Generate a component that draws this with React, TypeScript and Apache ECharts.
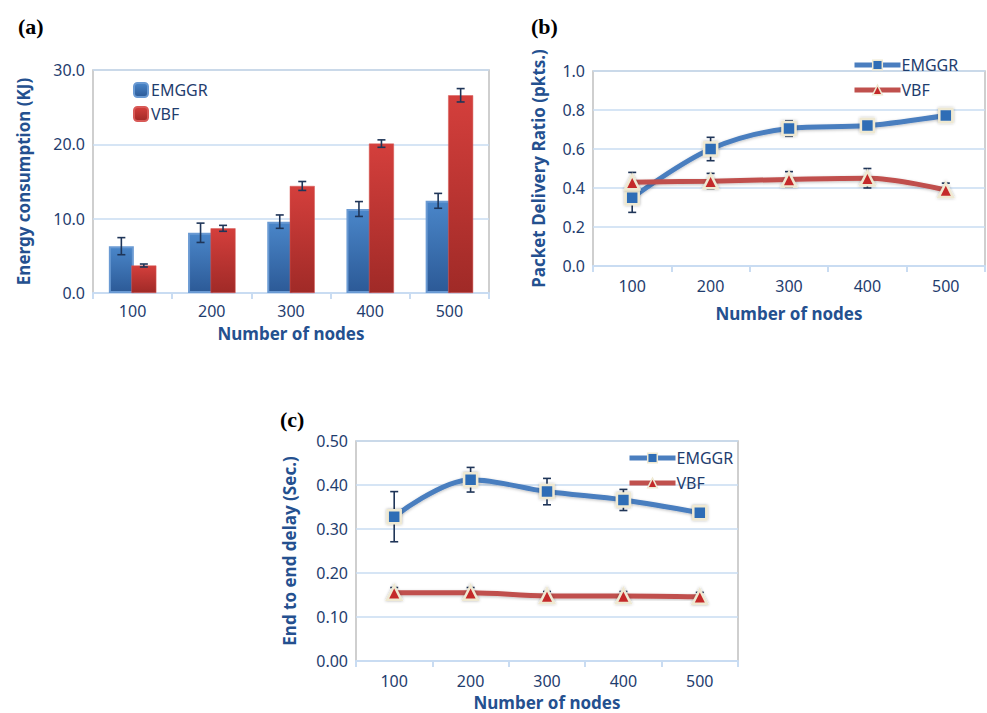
import React, { useEffect, useRef } from "react";
import * as echarts from "echarts";

const nodes = ["100", "200", "300", "400", "500"];

// (a) Energy consumption (KJ)
const energyEMGGR = [6.3, 8.1, 9.6, 11.3, 12.4];
const energyEMGGRErr = [1.15, 1.3, 0.9, 1.0, 1.0];
const energyVBF = [3.7, 8.7, 14.4, 20.1, 26.6];
const energyVBFErr = [0.2, 0.4, 0.6, 0.5, 0.9];

// (b) Packet delivery ratio
const pdrEMGGR = [0.35, 0.6, 0.705, 0.72, 0.772];
const pdrEMGGRErr = [0.075, 0.06, 0.04, 0.012, 0.012];
const pdrVBF = [0.43, 0.435, 0.444, 0.45, 0.39];
const pdrVBFErr = [0.05, 0.04, 0.04, 0.05, 0.035];

// (c) End to end delay
const delayEMGGR = [0.328, 0.412, 0.385, 0.366, 0.337];
const delayEMGGRErr = [0.057, 0.028, 0.03, 0.024, 0.01];
const delayVBF = [0.155, 0.155, 0.148, 0.148, 0.146];
const delayVBFErr = [0.012, 0.012, 0.01, 0.01, 0.01];

const energyTicks = { min: 0, max: 30, interval: 10 };
const pdrTicks = { min: 0, max: 1, interval: 0.2 };
const delayTicks = { min: 0, max: 0.5, interval: 0.1 };

const FONT = "Noto Sans";
const TICK_COLOR = "#1f3d6e";
const NAME_COLOR = "#24508f";
const GRID_LINE = "#c9dcf2";
const ERR_COLOR = "#1f3558";
const BLUE_LINE = "#4a7ebf";
const RED_LINE = "#c0504d";

const errData = (vals: number[], errs: number[]) =>
  vals.map((v, i) => [i, v, errs[i]]);

const errSeries = (
  name: string,
  idx: number,
  vals: number[],
  errs: number[],
  offset: number,
  z: number
) => ({
  type: "custom",
  name,
  xAxisIndex: idx,
  yAxisIndex: idx,
  z,
  silent: true,
  data: errData(vals, errs),
  encode: { x: 0, y: 1 },
  renderItem: (params: any, api: any) => {
    const x = api.value(0);
    const y = api.value(1);
    const e = api.value(2);
    const hi = api.coord([x, y + e]);
    const lo = api.coord([x, y - e]);
    const cx = hi[0] + offset;
    const cap = 4;
    const style = { stroke: ERR_COLOR, lineWidth: 1.6 };
    return {
      type: "group",
      children: [
        { type: "line", shape: { x1: cx, y1: hi[1], x2: cx, y2: lo[1] }, style },
        { type: "line", shape: { x1: cx - cap, y1: hi[1], x2: cx + cap, y2: hi[1] }, style },
        { type: "line", shape: { x1: cx - cap, y1: lo[1], x2: cx + cap, y2: lo[1] }, style },
      ],
    };
  },
});

const xAxisCfg = (idx: number, labelMargin: number, nameGap: number) => ({
  type: "category",
  gridIndex: idx,
  data: nodes,
  boundaryGap: true,
  name: "Number of nodes",
  nameLocation: "middle",
  nameGap,
  nameTextStyle: { fontFamily: FONT, fontSize: 17, fontWeight: "bold", color: NAME_COLOR, lineHeight: 18 },
  axisLine: { show: true, lineStyle: { color: GRID_LINE, width: 2 } },
  axisTick: { show: true, length: 6, lineStyle: { color: GRID_LINE, width: 2 } },
  axisLabel: { fontFamily: FONT, fontSize: 16, color: TICK_COLOR, margin: labelMargin, lineHeight: 16 },
  splitLine: { show: false },
});

const yAxisCfg = (
  idx: number,
  name: string,
  ticks: { min: number; max: number; interval: number },
  digits: number,
  nameGap: number
) => ({
  type: "value",
  gridIndex: idx,
  min: ticks.min,
  max: ticks.max,
  interval: ticks.interval,
  name,
  nameLocation: "middle",
  nameGap,
  nameTextStyle: { fontFamily: FONT, fontSize: 17, fontWeight: "bold", color: NAME_COLOR },
  axisLine: { show: false },
  axisTick: { show: false },
  axisLabel: {
    fontFamily: FONT,
    fontSize: 16,
    color: TICK_COLOR,
    margin: 8,
    formatter: (v: number) => v.toFixed(digits),
  },
  splitLine: { show: true, lineStyle: { color: GRID_LINE, width: 1.5 } },
});

const lineSeries = (
  name: string,
  idx: number,
  vals: number[],
  color: string,
  symbol: string,
  symbolColor: string,
  symbolSize: number
) => ({
  type: "line",
  name,
  xAxisIndex: idx,
  yAxisIndex: idx,
  data: vals,
  smooth: 0.35,
  z: 3,
  symbol,
  symbolSize,
  showSymbol: true,
  lineStyle: { color, width: 5, shadowColor: "rgba(0,0,0,0.25)", shadowBlur: 3, shadowOffsetY: 1 },
  itemStyle: {
    color: symbolColor,
    borderColor: "#efe9d2",
    borderWidth: 2.5,
    shadowColor: "rgba(0,0,0,0.3)",
    shadowBlur: 3,
  },
});

const barGradient = (top: string, bottom: string) =>
  new echarts.graphic.LinearGradient(0, 0, 0, 1, [
    { offset: 0, color: top },
    { offset: 1, color: bottom },
  ]);

const legendFmt = (n: string) => n.split("_")[0];

const lineLegend = (left: number, top: number, data: string[]) => ({
  orient: "vertical",
  left,
  top,
  itemWidth: 46,
  itemHeight: 12,
  itemGap: 9,
  data,
  formatter: legendFmt,
  lineStyle: { width: 5 },
  itemStyle: { borderColor: "#efe9d2", borderWidth: 1.5 },
  textStyle: { fontFamily: FONT, fontSize: 16, color: TICK_COLOR, padding: [0, 0, 0, -4] },
});

export default function App() {
  const ref = useRef<HTMLDivElement>(null);

  useEffect(() => {
    if (!ref.current) return;
    const chart = echarts.init(ref.current, undefined, { renderer: "svg" });
    const titleStyle = {
      fontFamily: "Liberation Serif",
      fontSize: 22,
      fontWeight: "bold",
      color: "#000",
    };
    chart.setOption({
      animation: false,
      backgroundColor: "#ffffff",
      title: [
        { text: "(a)", left: 13, top: 10, textStyle: titleStyle },
        { text: "(b)", left: 526, top: 10, textStyle: titleStyle },
        { text: "(c)", left: 275, top: 403, textStyle: titleStyle },
      ],
      grid: [
        { left: 93, top: 70, width: 396, height: 223, show: true, borderColor: "#c0c0c0", borderWidth: 1.5, backgroundColor: "transparent" },
        { left: 593, top: 71, width: 392, height: 195, show: true, borderColor: "#c0c0c0", borderWidth: 1.5, backgroundColor: "transparent" },
        { left: 356, top: 441, width: 382, height: 220, show: true, borderColor: "#c0c0c0", borderWidth: 1.5, backgroundColor: "transparent" },
      ],
      xAxis: [xAxisCfg(0, 10, 31), xAxisCfg(1, 12, 38), xAxisCfg(2, 12, 32)],
      yAxis: [
        yAxisCfg(0, "Energy consumption (KJ)", energyTicks, 1, 61),
        yAxisCfg(1, "Packet Delivery Ratio (pkts.)", pdrTicks, 1, 46),
        yAxisCfg(2, "End to end delay (Sec.)", delayTicks, 2, 58),
      ],
      legend: [
        {
          orient: "vertical",
          left: 128,
          top: 77,
          itemWidth: 14,
          itemHeight: 14,
          itemGap: 8,
          data: ["EMGGR_a", "VBF_a"],
          formatter: legendFmt,
          textStyle: { fontFamily: FONT, fontSize: 16, color: TICK_COLOR, padding: [0, 0, 0, -2] },
        },
        lineLegend(847, 52, ["EMGGR_b", "VBF_b"]),
        lineLegend(622, 445, ["EMGGR_c", "VBF_c"]),
      ],
      series: [
        {
          type: "bar",
          name: "EMGGR_a",
          xAxisIndex: 0,
          yAxisIndex: 0,
          data: energyEMGGR,
          barWidth: 25,
          barGap: "-10%",
          z: 2,
          itemStyle: {
            color: barGradient("#4a86c9", "#2c5a97"),
            borderColor: "#6a9ad3",
            borderWidth: 2,
          },
        },
        {
          type: "bar",
          name: "VBF_a",
          xAxisIndex: 0,
          yAxisIndex: 0,
          data: energyVBF,
          barWidth: 25,
          barGap: "-10%",
          z: 3,
          itemStyle: {
            color: barGradient("#d43f3c", "#a02a27"),
            borderColor: "#d85a57",
            borderWidth: 0.5,
          },
        },
        errSeries("errA1", 0, energyEMGGR, energyEMGGRErr, -11.25, 5),
        errSeries("errA2", 0, energyVBF, energyVBFErr, 11.25, 5),

        errSeries("errB1", 1, pdrEMGGR, pdrEMGGRErr, 0, 2),
        errSeries("errB2", 1, pdrVBF, pdrVBFErr, 0, 2),
        lineSeries("EMGGR_b", 1, pdrEMGGR, BLUE_LINE, "rect", "#2f6db6", 13),
        lineSeries("VBF_b", 1, pdrVBF, RED_LINE, "triangle", "#c42a2a", 14),

        errSeries("errC1", 2, delayEMGGR, delayEMGGRErr, 0, 2),
        errSeries("errC2", 2, delayVBF, delayVBFErr, 0, 2),
        lineSeries("EMGGR_c", 2, delayEMGGR, BLUE_LINE, "rect", "#2f6db6", 13),
        lineSeries("VBF_c", 2, delayVBF, RED_LINE, "triangle", "#c42a2a", 14),
      ],
    });
    return () => chart.dispose();
  }, []);

  return (
    <div
      ref={ref}
      style={{ position: "fixed", left: 0, top: 0, width: 987, height: 713, background: "#fff" }}
    />
  );
}
